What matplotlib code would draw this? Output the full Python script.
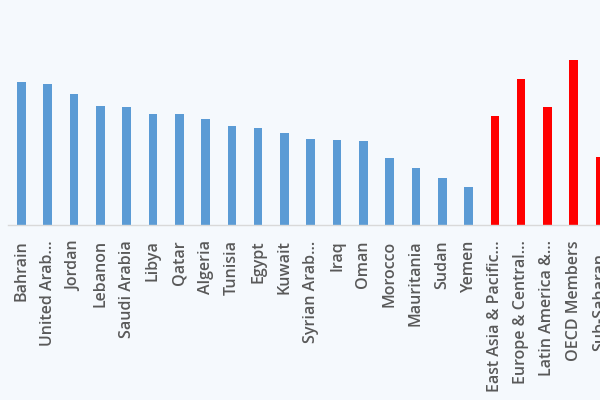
import matplotlib
matplotlib.use("Agg")
import matplotlib.pyplot as plt

categories = ["Bahrain", "United Arab…", "Jordan", "Lebanon", "Saudi Arabia", "Libya",
              "Qatar", "Algeria", "Tunisia", "Egypt", "Kuwait", "Syrian Arab…", "Iraq",
              "Oman", "Morocco", "Mauritania", "Sudan", "Yemen",
              "East Asia & Pacific…", "Europe & Central…", "Latin America &…",
              "OECD Members", "Sub-Saharan…"]
values = [71.3, 70.5, 65.3, 59.7, 59.2, 55.5, 55.5, 53.0, 49.3, 48.3, 46.0, 43.2, 42.3,
          41.8, 33.3, 28.3, 23.5, 18.8,
          54.5, 72.8, 59.2, 82.7, 33.8]
groups = ["arab"] * 18 + ["region"] * 5

color_map = {"arab": "#5b9bd5", "region": "#ff0000"}
bg = "#f5f9fd"

fig = plt.figure(figsize=(6, 4), dpi=100, facecolor=bg)
# axes extend beyond right edge (chart is cropped in reference)
ax = fig.add_axes([8.3 / 600, 175 / 400, 23 * 26.3 / 600, 180 / 400])
ax.set_facecolor(bg)

x = list(range(len(categories)))
ax.bar(x, values, width=0.33, color=[color_map[g] for g in groups], zorder=2)

ax.set_xlim(-0.5, 22.5)
ax.set_ylim(0, 90)
ax.set_xticks(x)
ax.set_xticklabels(categories, rotation=90, fontsize=11.5, color="#595959",
                   fontweight="semibold",
                   family=["Open Sans", "DejaVu Sans"], ha="center", va="top")
ax.tick_params(axis="x", length=0, pad=11)
ax.set_yticks([])
for s in ["top", "right", "left"]:
    ax.spines[s].set_visible(False)
ax.spines["bottom"].set_color("#d9d9d9")
ax.spines["bottom"].set_linewidth(1)

fig.savefig("out.png", dpi=100, facecolor=bg)
